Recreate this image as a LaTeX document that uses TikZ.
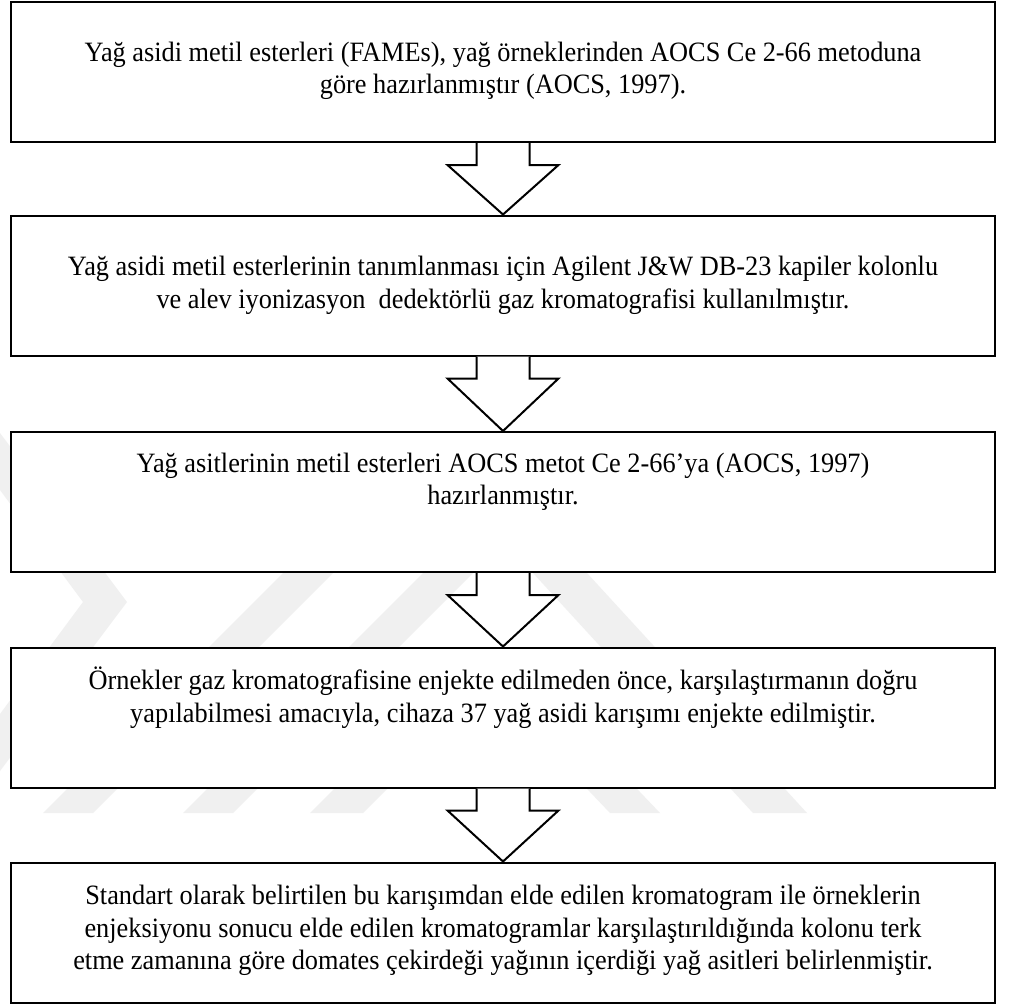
\documentclass[tikz,border=0pt]{standalone}
\usepackage{fontspec}
\setmainfont{Liberation Serif}[FakeStretch=0.94]
\usetikzlibrary{calc}

\tikzset{
  stepbox/.style={draw=black, line width=2pt, fill=white, inner sep=0pt,
    minimum width=984pt, minimum height=140pt},
  steptext/.style={align=center, inner sep=0pt,
    font=\fontsize{28}{32.5}\selectfont},
  blockarrow/.style={draw=black, line width=2pt, fill=white, line join=miter},
  emblem/.style={fill=black!6, draw=none}
}

% block arrow from the bottom of one box to the top of the next
\newcommand{\flowarrow}[2]{%
  \draw[blockarrow]
    ($(#1.south)+(-26.5,0)$) -- ($(#1.south)+(-26.5,22)$)
    -- ($(#1.south)+(-55.5,22)$) -- (#2.north)
    -- ($(#1.south)+(55.5,22)$) -- ($(#1.south)+(26.5,22)$)
    -- ($(#1.south)+(26.5,0)$);
}

\begin{document}
\begin{tikzpicture}[x=1pt, y=-1pt]
\useasboundingbox (0,0) rectangle (1009,1005);
\fill[white] (0,0) rectangle (1009,1005);

% faint background emblem
\fill[emblem] (0,433) -- (127,602) -- (0,771) -- (0,714) -- (83,602) -- (0,490) -- cycle;
\fill[emblem] (43,813) -- (93,813) -- (353,553) -- (303,553) -- cycle;
\fill[emblem] (183,813) -- (233,813) -- (493,553) -- (443,553) -- cycle;
\fill[emblem] (310,813) -- (363,813) -- (420,756) -- (367,756) -- cycle;
\fill[emblem] (533,573) -- (587,573) -- (807,813) -- (753,813) -- cycle;
\fill[emblem] (610,813) -- (660,813) -- (600,750) -- (550,750) -- cycle;

% process steps
\node[stepbox] (b1) at (503,72) {};
\node[stepbox] (b2) at (503,285.5) {};
\node[stepbox] (b3) at (503,502) {};
\node[stepbox] (b4) at (503,717.5) {};
\node[stepbox] (b5) at (503,932.5) {};

\node[steptext] (t1) at ($(b1.center)+(0,-1)$) {Yağ asidi metil esterleri (FAMEs), yağ örneklerinden AOCS Ce 2-66 metoduna\\göre hazırlanmıştır (AOCS, 1997).};
\node[steptext] (t2) at (b2.center) {Yağ asidi metil esterlerinin tanımlanması için Agilent J\&W DB-23 kapiler kolonlu\\ve alev iyonizasyon~ dedektörlü gaz kromatografisi kullanılmıştır.};
\node[steptext] (t3) at ($(b3.center)+(0,-20)$) {Yağ asitlerinin metil esterleri AOCS metot Ce 2-66’ya (AOCS, 1997)\\hazırlanmıştır.};
\node[steptext] (t4) at ($(b4.center)+(0,-20)$) {Örnekler gaz kromatografisine enjekte edilmeden önce, karşılaştırmanın doğru\\yapılabilmesi amacıyla, cihaza 37 yağ asidi karışımı enjekte edilmiştir.};
\node[steptext] (t5) at ($(b5.center)+(0,-2)$) {Standart olarak belirtilen bu karışımdan elde edilen kromatogram ile örneklerin\\enjeksiyonu sonucu elde edilen kromatogramlar karşılaştırıldığında kolonu terk\\etme zamanına göre domates çekirdeği yağının içerdiği yağ asitleri belirlenmiştir.};

% connectors
\flowarrow{b1}{b2}
\flowarrow{b2}{b3}
\flowarrow{b3}{b4}
\flowarrow{b4}{b5}
\end{tikzpicture}
\end{document}
